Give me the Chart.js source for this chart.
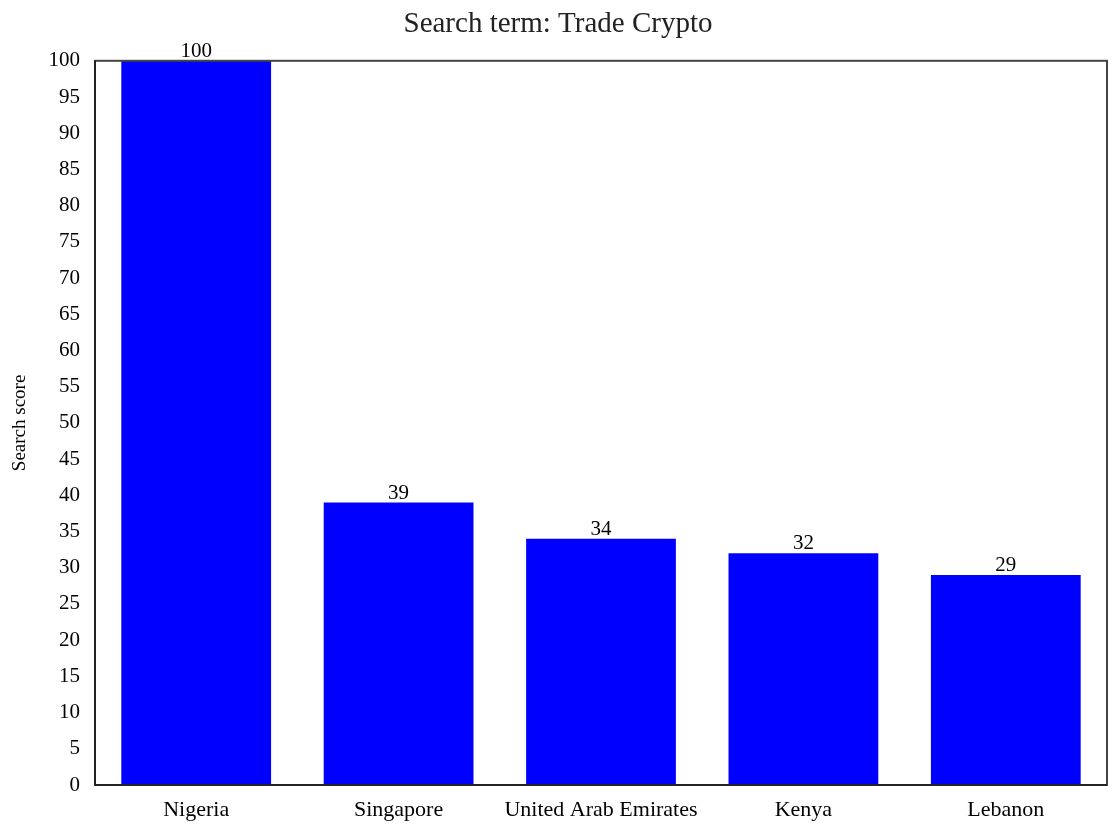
<!DOCTYPE html>
<html>
<head>
<meta charset="utf-8">
<style>
  html, body { margin: 0; padding: 0; background: #fff; }
  #wrap { width: 1120px; height: 832px; }
</style>
<script src="https://cdn.jsdelivr.net/npm/chart.js@4.4.0/dist/chart.umd.min.js"></script>
</head>
<body>
<div id="wrap"><canvas id="chart"></canvas></div>
<script>
// Chart data
const countries = ['Nigeria', 'Singapore', 'United Arab Emirates', 'Kenya', 'Lebanon'];
const scores = [100, 39, 34, 32, 29];

const serif = '"Liberation Serif", "Times New Roman", serif';

// Frame around the plot area (top and right sides)
const framePlugin = {
    id: 'frame',
    afterDraw(chart) {
        const { ctx, chartArea: a } = chart;
        ctx.save();
        ctx.strokeStyle = '#444';
        ctx.lineWidth = 2;
        ctx.strokeRect(a.left, a.top, a.right - a.left, a.bottom - a.top);
        // left and bottom edges a bit darker
        ctx.strokeStyle = '#222';
        ctx.beginPath();
        ctx.moveTo(a.left, a.top);
        ctx.lineTo(a.left, a.bottom);
        ctx.lineTo(a.right, a.bottom);
        ctx.stroke();
        ctx.restore();
    }
};

// Value labels above each bar
const valueLabels = {
    id: 'valueLabels',
    afterDatasetsDraw(chart) {
        const { ctx } = chart;
        const meta = chart.getDatasetMeta(0);
        ctx.save();
        ctx.font = '21px ' + serif;
        ctx.fillStyle = '#000';
        ctx.textAlign = 'center';
        ctx.textBaseline = 'bottom';
        meta.data.forEach((bar, i) => {
            ctx.fillText(scores[i], bar.x, bar.y + 1);
        });
        ctx.restore();
    }
};

new Chart(document.getElementById('chart'), {
    type: 'bar',
    data: {
        labels: countries,
        datasets: [{
            data: scores,
            backgroundColor: '#0000ff',
            borderWidth: 0,
            barPercentage: 0.74,
            categoryPercentage: 1.0
        }]
    },
    options: {
        responsive: true,
        maintainAspectRatio: false,
        animation: false,
        layout: { padding: { top: 0, right: 13, bottom: 0, left: 9 } },
        plugins: {
            legend: { display: false },
            tooltip: { enabled: false },
            title: {
                display: true,
                text: 'Search term: Trade Crypto',
                color: '#222',
                font: { family: serif, size: 29, weight: 'normal' },
                padding: { top: 7, bottom: 19 }
            }
        },
        scales: {
            x: {
                grid: { display: false },
                border: { display: false },
                ticks: {
                    color: '#000',
                    font: { family: serif, size: 22 },
                    padding: 4,
                    maxRotation: 0
                },
                afterFit(scale) { scale.height = 47; }
            },
            y: {
                min: 0,
                max: 100,
                grid: { display: false },
                border: { display: false },
                ticks: {
                    stepSize: 5,
                    color: '#000',
                    font: { family: serif, size: 21 },
                    padding: 7
                },
                title: {
                    display: true,
                    text: 'Search score',
                    color: '#000',
                    font: { family: serif, size: 19 },
                    padding: 0
                },
                afterFit(scale) { scale.width = 86; }
            }
        }
    },
    plugins: [framePlugin, valueLabels]
});
</script>
</body>
</html>
